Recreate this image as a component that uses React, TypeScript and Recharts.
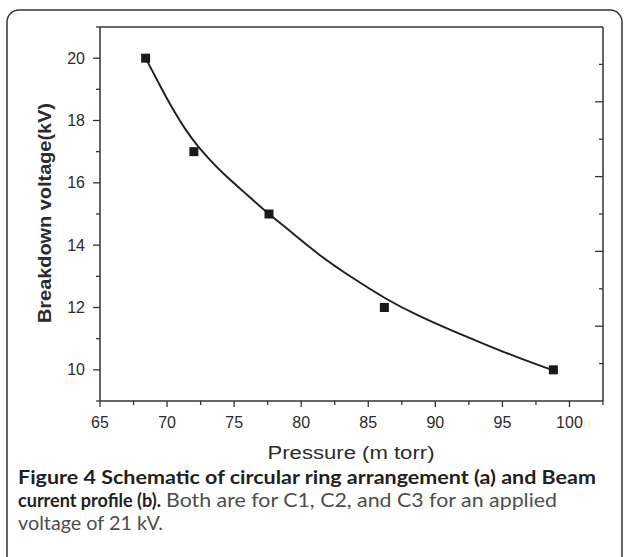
import { ComposedChart, Line, Scatter, XAxis, YAxis } from "recharts";

// measured points
const pressure = [68.4, 72.0, 77.6, 86.2, 98.8];
const voltage = [20, 17, 15, 12, 10];

// fitted curve
const fitPressure = [68.4, 69.5, 70.5, 71.4, 72.3, 73.2, 74.2, 75.9, 77.6, 79.0, 81.3, 83.8, 86.3, 88.8, 91.3, 93.7, 96.2, 98.8];
const fitVoltage = [20.0, 19.1, 18.32, 17.7, 17.18, 16.74, 16.3, 15.64, 15.0, 14.51, 13.71, 12.96, 12.29, 11.73, 11.25, 10.82, 10.39, 9.98];

const xTicks = [65, 67.5, 70, 72.5, 75, 77.5, 80, 82.5, 85, 87.5, 90, 92.5, 95, 97.5, 100, 102.5];
const xLabels = [65, 70, 75, 80, 85, 90, 95, 100];
const yTicks = [9, 10, 11, 12, 13, 14, 15, 16, 17, 18, 19, 20, 21];
const yLabels = [10, 12, 14, 16, 18, 20];
const frameTicks = [1, 2, 3, 4, 5, 6, 7, 8, 9];

const points = pressure.map((p, i) => ({ p, v: voltage[i] }));
const fit = fitPressure.map((p, i) => ({ p, v: fitVoltage[i] }));

const axisColor = "#333";
const font = "'Liberation Sans', Arial, sans-serif";
const capFont = "Lato, 'Open Sans', sans-serif";

const BottomTick = (props: any) => {
  const { x, y, payload } = props;
  const major = xLabels.includes(payload.value);
  return (
    <g>
      <line x1={x} y1={y} x2={x} y2={y + (major ? 6 : 4)} stroke={axisColor} strokeWidth={1.3} />
      {major && (
        <text x={x} y={y + 21} textAnchor="middle" dominantBaseline="central" fontSize={16} fontFamily={font} fill="#2b2b2b">
          {payload.value}
        </text>
      )}
    </g>
  );
};

const LeftTick = (props: any) => {
  const { x, y, payload } = props;
  const major = yLabels.includes(payload.value);
  return (
    <g>
      <line x1={x} y1={y} x2={x - (major ? 7 : 4)} y2={y} stroke={axisColor} strokeWidth={1.3} />
      {major && (
        <text x={x - 15} y={y} textAnchor="end" dominantBaseline="central" fontSize={16} fontFamily={font} fill="#2b2b2b">
          {payload.value}
        </text>
      )}
    </g>
  );
};

const TopTick = (props: any) => {
  const { x, y, payload } = props;
  const major = payload.value % 2 === 0;
  return <line x1={x} y1={y} x2={x} y2={y + (major ? 7 : 3)} stroke={axisColor} strokeWidth={1.3} />;
};

const RightTick = (props: any) => {
  const { x, y, payload } = props;
  const major = payload.value % 2 === 0;
  return <line x1={x} y1={y} x2={x - (major ? 8 : 4)} y2={y} stroke={axisColor} strokeWidth={1.3} />;
};

const Square = (props: any) => {
  const { cx, cy } = props;
  return <rect x={cx - 4.5} y={cy - 4.5} width={9} height={9} fill="#1a1a1a" />;
};

export default function App() {
  return (
    <div style={{ position: "absolute", left: 0, top: 0, width: 624, height: 557, background: "#fff", overflow: "hidden" }}>
      <ComposedChart width={624} height={557} margin={{ top: 26, right: 20, bottom: 155, left: 99 }}>
        <XAxis
          dataKey="p"
          type="number"
          domain={[65, 102.5]}
          ticks={xTicks}
          interval={0}
          height={1}
          tickSize={0}
          tickMargin={0}
          tickLine={false}
          tick={BottomTick}
          axisLine={{ stroke: axisColor, strokeWidth: 1.5 }}
          allowDataOverflow
        />
        <XAxis
          xAxisId="top"
          orientation="top"
          type="number"
          domain={[0, 10]}
          ticks={frameTicks}
          interval={0}
          height={1}
          tickSize={0}
          tickMargin={0}
          tickLine={false}
          tick={TopTick}
          axisLine={{ stroke: axisColor, strokeWidth: 1.5 }}
          allowDataOverflow
        />
        <YAxis
          type="number"
          domain={[9, 21]}
          ticks={yTicks}
          interval={0}
          width={1}
          tickSize={0}
          tickMargin={0}
          tickLine={false}
          tick={LeftTick}
          axisLine={{ stroke: axisColor, strokeWidth: 1.5 }}
          allowDataOverflow
        />
        <YAxis
          yAxisId="right"
          orientation="right"
          type="number"
          domain={[0, 10]}
          ticks={frameTicks}
          interval={0}
          width={1}
          tickSize={0}
          tickMargin={0}
          tickLine={false}
          tick={RightTick}
          axisLine={{ stroke: axisColor, strokeWidth: 1.5 }}
          allowDataOverflow
        />
        <Line data={fit} dataKey="v" type="natural" stroke="#1e1e1e" strokeWidth={1.9} dot={false} isAnimationActive={false} />
        <Scatter data={points} dataKey="v" shape={Square} isAnimationActive={false} />
      </ComposedChart>
      <svg width={624} height={557} style={{ position: "absolute", left: 0, top: 0, pointerEvents: "none" }}>
        <rect x={7} y={10} width={615} height={600} rx={12} fill="none" stroke="#333" strokeWidth={1.5} />
        <text
          transform="translate(45,213) rotate(-90)"
          textAnchor="middle"
          dominantBaseline="central"
          fontSize={18}
          fontWeight="bold"
          fontFamily={font}
          fill="#2b2b2b"
          textLength={220}
          lengthAdjust="spacingAndGlyphs"
        >
          Breakdown voltage(kV)
        </text>
        <text x={351} y={453} textAnchor="middle" dominantBaseline="central" fontSize={18} fontFamily={font} fill="#2b2b2b" textLength={167} lengthAdjust="spacingAndGlyphs">
          Pressure (m torr)
        </text>
        <text x={18} y={484} fontSize={19} fontWeight="bold" fontFamily={capFont} fill="#231f20" textLength={578} lengthAdjust="spacingAndGlyphs">
          Figure 4 Schematic of circular ring arrangement (a) and Beam
        </text>
        <text x={18} y={507} fontSize={19} fontWeight="bold" fontFamily={capFont} fill="#231f20" textLength={143} lengthAdjust="spacingAndGlyphs">
          current profile (b).
        </text>
        <text x={166} y={507} fontSize={19} fontFamily={capFont} fill="#4d4d4d" textLength={391} lengthAdjust="spacingAndGlyphs">
          Both are for C1, C2, and C3 for an applied
        </text>
        <text x={18} y={530} fontSize={19} fontFamily={capFont} fill="#4d4d4d" textLength={145} lengthAdjust="spacingAndGlyphs">
          voltage of 21 kV.
        </text>
      </svg>
    </div>
  );
}
